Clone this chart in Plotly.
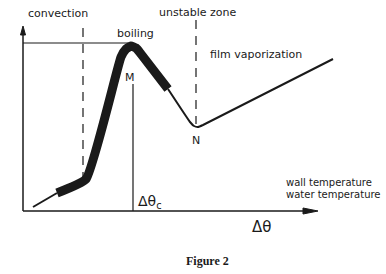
import plotly.graph_objects as go

# curve pieces (pixel-like coordinate space of the diagram)
thin_start_x = [33, 57]
thin_start_y = [207, 193]
thick_x = [57, 86, 121, 126, 131, 136, 141, 168]
thick_y = [193, 179, 57, 49, 46, 48, 54, 89]
thin_end_x = [168, 190, 194, 198, 203, 333]
thin_end_y = [89, 122, 126, 127, 125, 59]

fig = go.Figure()
ink = "#1a1a1a"
fig.add_trace(go.Scatter(x=thin_start_x, y=thin_start_y, mode="lines",
                         line=dict(color=ink, width=2)))
fig.add_trace(go.Scatter(x=thick_x, y=thick_y, mode="lines",
                         line=dict(color=ink, width=9, shape="spline", smoothing=0.4)))
fig.add_trace(go.Scatter(x=thin_end_x, y=thin_end_y, mode="lines",
                         line=dict(color=ink, width=2, shape="spline", smoothing=0.3)))

dash = "9px,7px"
shapes = [
    dict(type="line", x0=23, y0=211, x1=23, y1=34, line=dict(color=ink, width=1.5)),
    dict(type="line", x0=23, y0=211, x1=306, y1=211, line=dict(color=ink, width=1.5)),
    dict(type="path", path="M 20.5 35 L 23 26 L 25.5 35 Z", fillcolor=ink, line=dict(color=ink, width=1)),
    dict(type="path", path="M 303 208 L 318 211 L 303 214 Z", fillcolor=ink, line=dict(color=ink, width=1)),
    dict(type="line", x0=23, y0=43, x1=128, y1=43, line=dict(color=ink, width=1.2)),
    dict(type="line", x0=83, y0=28, x1=83, y1=178, line=dict(color=ink, width=1.2, dash=dash)),
    dict(type="line", x0=196, y0=20, x1=196, y1=124, line=dict(color=ink, width=1.2, dash=dash)),
    dict(type="line", x0=133, y0=84, x1=133, y1=211, line=dict(color=ink, width=1.2)),
]

ann = []
labels = [
    ("convection", 26, 13, "left", 11),
    ("boiling", 115, 33, "left", 11),
    ("unstable zone", 157, 12, "left", 11),
    ("film vaporization", 208, 54, "left", 11),
    ("M", 130, 77, "center", 11),
    ("N", 196, 140, "center", 11),
    ("Δθ<sub>c</sub>", 136, 202, "left", 14),
    ("wall temperature", 284, 182, "left", 10),
    ("water temperature", 284, 194, "left", 10),
    ("Δθ", 261, 227, "center", 15),
]
for t, x, y, anchor, sz in labels:
    ann.append(dict(x=x, y=y, xref="x", yref="y", text=t, showarrow=False,
                    xanchor=anchor, yanchor="middle",
                    font=dict(family="DejaVu Sans", size=sz, color=ink)))
ann.append(dict(x=207, y=261, xref="x", yref="y", text="<b>Figure 2</b>", showarrow=False,
                xanchor="center", yanchor="middle",
                font=dict(family="Liberation Serif", size=12, color=ink)))

fig.update_layout(
    width=386, height=274, margin=dict(l=0, r=0, t=0, b=0),
    paper_bgcolor="white", plot_bgcolor="white", showlegend=False,
    xaxis=dict(range=[0, 386], visible=False, fixedrange=True),
    yaxis=dict(range=[274, 0], visible=False, fixedrange=True),
    shapes=shapes, annotations=ann,
)
fig.write_html("out.html")
